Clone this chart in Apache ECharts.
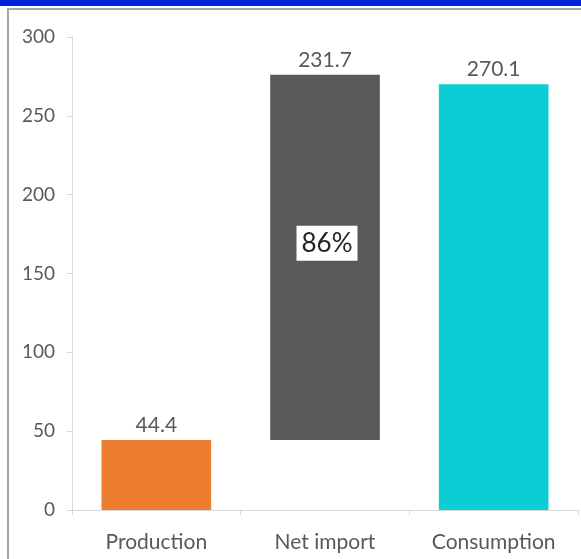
<!DOCTYPE html>
<html>
<head>
<meta charset="utf-8">
<script src="https://cdn.jsdelivr.net/npm/echarts@6/dist/echarts.min.js"></script>
<style>
html,body{margin:0;padding:0;background:#fff;}
#chart{width:581px;height:559px;}
</style>
</head>
<body>
<div id="chart"></div>
<script>
var categories = ['Production', 'Net import', 'Consumption'];
var baseValues = [0, 44.4, 0];
var barValues = [44.4, 231.7, 270.1];
var shareLabels = ['', '86%', ''];
var yTicks = [0, 50, 100, 150, 200, 250, 300];
var barColors = ['#ED7D31', '#595959', '#0ACDD6'];

var chart = echarts.init(document.getElementById('chart'), null, {renderer: 'canvas'});
var FONT = 'Lato';

var shareData = categories.map(function (c, i) {
  if (!shareLabels[i]) return null;
  return {value: baseValues[i] + barValues[i] / 2, label: shareLabels[i]};
});

chart.setOption({
  animation: false,
  backgroundColor: '#ffffff',
  graphic: [
    {type: 'rect', shape: {x: 0, y: 0, width: 581, height: 6}, style: {fill: '#0023DB'}, z: 100},
    {type: 'rect', shape: {x: 7, y: 8, width: 581, height: 2}, style: {fill: '#A6A6A6'}, z: 100},
    {type: 'rect', shape: {x: 7, y: 8, width: 2, height: 560}, style: {fill: '#A6A6A6'}, z: 100}
  ],
  grid: {left: 72, right: 3, top: 37, bottom: 49, containLabel: false},
  xAxis: {
    type: 'category',
    data: categories,
    axisLine: {lineStyle: {color: '#D9D9D9', width: 1}},
    axisTick: {show: true, inside: false, length: 5, lineStyle: {color: '#D9D9D9'}},
    axisLabel: {color: '#595959', fontFamily: FONT, fontSize: 21, margin: 22}
  },
  yAxis: {
    type: 'value',
    min: yTicks[0],
    max: yTicks[yTicks.length - 1],
    interval: yTicks[1] - yTicks[0],
    axisLine: {show: true, lineStyle: {color: '#D9D9D9'}},
    axisTick: {show: true, length: 5, lineStyle: {color: '#D9D9D9'}},
    splitLine: {show: false},
    axisLabel: {color: '#595959', fontFamily: FONT, fontSize: 19, margin: 17}
  },
  series: [
    {
      type: 'bar',
      stack: 'w',
      data: baseValues,
      barWidth: '65%',
      itemStyle: {color: 'transparent'},
      emphasis: {disabled: true},
      silent: true
    },
    {
      type: 'bar',
      stack: 'w',
      barWidth: '65%',
      data: barValues.map(function (v, i) {
        return {value: v, itemStyle: {color: barColors[i]}};
      }),
      label: {
        show: true,
        position: 'top',
        distance: 4,
        color: '#595959',
        fontFamily: FONT,
        fontSize: 21,
        formatter: function (p) { return p.value.toFixed(1); }
      }
    },
    {
      type: 'scatter',
      symbolSize: 0,
      itemStyle: {opacity: 1},
      data: shareData.map(function (d) {
        return d ? {value: d.value, label: {formatter: d.label}} : null;
      }),
      z: 10,
      label: {
        show: true,
        position: 'inside',
        offset: [2, -14],
        color: '#262626',
        opacity: 1,
        fontFamily: FONT,
        fontSize: 26,
        backgroundColor: '#ffffff',
        padding: [5, 5, 4, 5]
      }
    }
  ]
});
</script>
</body>
</html>
